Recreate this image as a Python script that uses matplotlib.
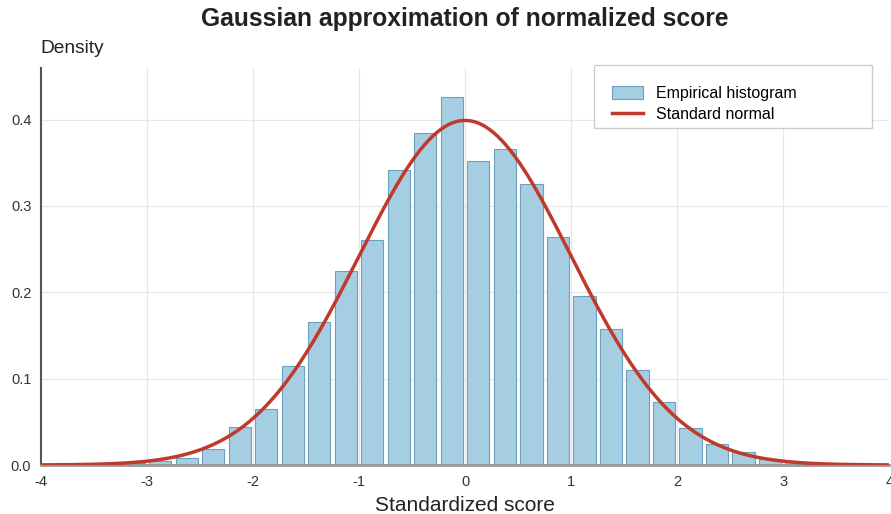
import numpy as np
import matplotlib
matplotlib.use("Agg")
import matplotlib.pyplot as plt
from matplotlib.patches import Rectangle

# bin centers (width 0.25) and empirical density
bin_centers = [-3.625, -3.375, -3.125, -2.875, -2.625, -2.375, -2.125, -1.875,
               -1.625, -1.375, -1.125, -0.875, -0.625, -0.375, -0.125, 0.125,
               0.375, 0.625, 0.875, 1.125, 1.375, 1.625, 1.875, 2.125,
               2.375, 2.625, 2.875, 3.125, 3.375, 3.625]
density = [0.001, 0.001, 0.002, 0.005, 0.0085, 0.018, 0.044, 0.065,
           0.115, 0.165, 0.225, 0.260, 0.342, 0.384, 0.426, 0.352,
           0.366, 0.325, 0.264, 0.196, 0.158, 0.110, 0.073, 0.043,
           0.024, 0.0145, 0.007, 0.003, 0.0015, 0.002]
x_ticks = [-4, -3, -2, -1, 0, 1, 2, 3, 4]
y_ticks = [0.0, 0.1, 0.2, 0.3, 0.4]

plt.rcParams['font.family'] = ['Liberation Sans', 'DejaVu Sans']

fig = plt.figure(figsize=(8.91, 5.14), dpi=100)
ax = fig.add_axes([0.046, 0.0953, 0.952, 0.773])

bars = ax.bar(bin_centers, density, width=0.21, color='#a6cee3', edgecolor='#6d9fc0',
              linewidth=0.8, label='Empirical histogram', zorder=2)

# standard normal pdf
xs = np.linspace(-4, 4, 400)
line, = ax.plot(xs, np.exp(-xs**2 / 2) / np.sqrt(2 * np.pi), color='#c0392b', lw=2.5,
                label='Standard normal', zorder=3)

ax.set_xlim(-4, 4)
ax.set_ylim(0, 0.46)
ax.set_xticks(x_ticks)
ax.set_xticklabels([str(t) for t in x_ticks])
ax.set_yticks(y_ticks)
ax.set_yticklabels(['%.1f' % t for t in y_ticks])
ax.tick_params(length=0, labelsize=10.5, colors='#333333', pad=7)
ax.grid(True, color='#e6e6e6', lw=0.8, zorder=0)
ax.set_axisbelow(True)

for s in ['top', 'right']:
    ax.spines[s].set_visible(False)
ax.spines['left'].set_color('#555555')
ax.spines['left'].set_linewidth(1.5)
ax.spines['bottom'].set_color('#999999')
ax.spines['bottom'].set_linewidth(2)

ax.set_xlabel('Standardized score', fontsize=15, color='#222222', labelpad=5)
ax.set_title('Gaussian approximation of normalized score', fontsize=17.7,
             fontweight='bold', color='#222222', pad=30)
fig.text(0.045, 0.905, 'Density', fontsize=13.8, color='#222222', va='center', ha='left')

# legend frame drawn separately (wide box, like the reference)
frame = Rectangle((0.652, 0.848), 0.328, 0.158, transform=ax.transAxes,
                  facecolor='white', edgecolor='#cccccc', lw=1, zorder=4, clip_on=False)
ax.add_patch(frame)
leg = ax.legend([bars, line], ['Empirical histogram', 'Standard normal'],
                loc='upper left', bbox_to_anchor=(0.673, 0.955), fontsize=11.5,
                frameon=False, borderpad=0, handlelength=1.95, handleheight=0.9,
                labelspacing=0.38, handletextpad=0.8, borderaxespad=0)
leg.set_zorder(5)

fig.savefig('out.png', dpi=100)
